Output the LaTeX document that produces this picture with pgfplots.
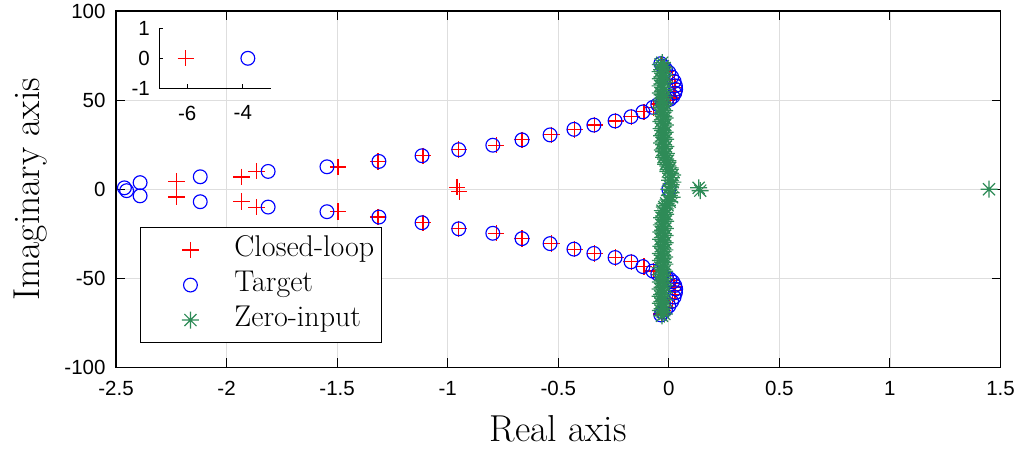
\documentclass[border=0pt]{standalone}
\usepackage{fontspec}
\usepackage{pgfplots}
\pgfplotsset{compat=1.18}
\newfontfamily\ticksfamily{Liberation Sans}
\newcommand\ticks{\ticksfamily\fontsize{20.5}{24}\selectfont}
\newcommand\labfont{\fontsize{37.5}{42}\selectfont}
\newcommand\legfont{\fontsize{30}{34}\selectfont}
\definecolor{zgreen}{RGB}{46,139,87}
\pgfdeclareplotmark{mstar}{%
  \pgfpathmoveto{\pgfqpoint{-\pgfplotmarksize}{0pt}}\pgfpathlineto{\pgfqpoint{\pgfplotmarksize}{0pt}}%
  \pgfpathmoveto{\pgfqpoint{0pt}{-\pgfplotmarksize}}\pgfpathlineto{\pgfqpoint{0pt}{\pgfplotmarksize}}%
  \pgfpathmoveto{\pgfqpoint{-.7071\pgfplotmarksize}{-.7071\pgfplotmarksize}}\pgfpathlineto{\pgfqpoint{.7071\pgfplotmarksize}{.7071\pgfplotmarksize}}%
  \pgfpathmoveto{\pgfqpoint{-.7071\pgfplotmarksize}{.7071\pgfplotmarksize}}\pgfpathlineto{\pgfqpoint{.7071\pgfplotmarksize}{-.7071\pgfplotmarksize}}%
  \pgfusepathqstroke}
\pgfplotsset{myimg/.style={legend image code/.code={\path[draw=none,fill=none] (0pt,-1pt) rectangle (87pt,1pt); \draw[##1] plot coordinates {(45pt,0pt)};}}}

\pgfplotstableread{
x y
-2.226 4.4
-2.226 -4.4
-1.932 6.9
-1.932 -6.9
-1.864 10.1
-1.864 -10.1
-1.496 12.5
-1.496 -12.5
-1.315 15.6
-1.315 -15.6
-1.112 18.8
-1.112 -18.8
-0.958 1.2
-0.948 -1.2
-0.950 22.2
-0.950 -22.2
-0.781 24.7
-0.781 -24.7
-0.664 27.7
-0.664 -27.7
-0.531 30.5
-0.531 -30.5
-0.425 33.6
-0.425 -33.6
-0.335 36.0
-0.335 -36.0
-0.240 38.3
-0.240 -38.3
-0.168 40.7
-0.168 -40.7
-0.112 43.4
-0.112 -43.4
-0.070 45.9
-0.070 -45.9
-0.045 47.8
-0.045 -47.8
-0.025 49.0
-0.025 -49.0
-0.008 50.0
-0.008 -50.0
0.008 51.2
0.008 -51.2
0.020 52.8
0.020 -52.8
0.027 54.8
0.027 -54.8
0.028 57.0
0.028 -57.0
0.024 59.2
0.024 -59.2
0.015 61.5
0.015 -61.5
0.003 64.0
0.003 -64.0
-0.012 66.2
-0.012 -66.2
-0.025 68.2
-0.025 -68.2
-0.034 70.0
-0.034 -70.0
0.000 0.0
}\closedloop

\pgfplotstableread{
x y
-2.462 0.8
-2.452 -0.8
-2.391 3.7
-2.391 -3.7
-2.119 7.0
-2.119 -7.0
-1.812 10.0
-1.812 -10.0
-1.546 12.6
-1.546 -12.6
-1.311 15.6
-1.311 -15.6
-1.116 18.8
-1.116 -18.8
-0.950 22.2
-0.950 -22.2
-0.796 24.7
-0.796 -24.7
-0.664 27.7
-0.664 -27.7
-0.537 30.5
-0.537 -30.5
-0.429 33.6
-0.429 -33.6
-0.339 36.0
-0.339 -36.0
-0.243 38.3
-0.243 -38.3
-0.171 40.7
-0.171 -40.7
-0.117 43.4
-0.117 -43.4
-0.072 45.9
-0.072 -45.9
-0.050 47.5
-0.050 -47.5
-0.030 48.5
-0.030 -48.5
-0.012 49.5
-0.012 -49.5
0.005 50.5
0.005 -50.5
0.018 52.0
0.018 -52.0
0.027 54.0
0.027 -54.0
0.031 56.0
0.031 -56.0
0.030 58.0
0.030 -58.0
0.024 60.5
0.024 -60.5
0.013 63.0
0.013 -63.0
0.000 65.5
0.000 -65.5
-0.015 67.5
-0.015 -67.5
-0.028 69.0
-0.028 -69.0
-0.036 70.5
-0.036 -70.5
0.000 0.0
}\target

\pgfplotstableread{
x y
-0.030 71
-0.038 70
-0.027 69
-0.019 68
-0.032 67
-0.039 66
-0.027 65
-0.019 64
-0.031 63
-0.038 62
-0.026 61
-0.018 60
-0.031 59
-0.039 58
-0.027 57
-0.019 56
-0.025 55
-0.038 54
-0.030 53
-0.019 52
-0.026 51
-0.038 50
-0.029 49
-0.018 48
-0.025 47
-0.037 46
-0.030 45
-0.019 44
-0.027 43
-0.037 42
-0.024 41
-0.017 40
-0.029 39
-0.036 38
-0.026 37
-0.016 36
-0.023 35
-0.035 34
-0.028 33
-0.017 32
-0.025 31
-0.033 30
-0.022 29
-0.014 28
-0.026 27
-0.032 26
-0.023 25
-0.013 24
-0.020 23
-0.029 22
-0.024 21
-0.011 20
-0.019 19
-0.024 18
-0.015 17
-0.004 16
-0.010 15
-0.014 14
-0.004 13
0.006 12
0.002 11
-0.004 10
0.008 9
0.017 8
0.012 6.5
0.004 5
0.018 4
0.010 2.5
0.006 1.5
0.000 0
0.010 -2
0.002 -3.5
0.015 -4.5
-0.004 -6
0.004 -7
-0.012 -8
-0.006 -9
-0.020 -10
-0.014 -11
-0.029 -12
-0.020 -13
-0.014 -14
-0.024 -15
-0.033 -16
-0.021 -17
-0.015 -18
-0.027 -19
-0.034 -20
-0.024 -21
-0.016 -22
-0.028 -23
-0.036 -24
-0.025 -25
-0.017 -26
-0.029 -27
-0.037 -28
-0.026 -29
-0.017 -30
-0.023 -31
-0.036 -32
-0.028 -33
-0.018 -34
-0.026 -35
-0.038 -36
-0.030 -37
-0.019 -38
-0.027 -39
-0.038 -40
-0.025 -41
-0.018 -42
-0.030 -43
-0.039 -44
-0.027 -45
-0.019 -46
-0.031 -47
-0.038 -48
-0.026 -49
-0.018 -50
-0.029 -51
-0.038 -52
-0.025 -53
-0.019 -54
-0.030 -55
-0.039 -56
-0.027 -57
-0.019 -58
-0.032 -59
-0.039 -60
-0.028 -61
-0.019 -62
-0.031 -63
-0.038 -64
-0.027 -65
-0.019 -66
-0.030 -67
-0.038 -68
-0.028 -69
-0.020 -70
-0.031 -71
0.135 0.8
0.142 -0.8
1.448 0
}\zeroinput

\begin{document}
\begin{tikzpicture}
\begin{axis}[name=main,
  scale only axis, width=884.5pt, height=356.5pt,
  xmin=-2.5, xmax=1.5, ymin=-100, ymax=100,
  xtick={-2.5,-2,-1.5,-1,-0.5,0,0.5,1,1.5},
  xticklabels={-2.5,-2,-1.5,-1,-0.5,0,0.5,1,1.5},
  ytick={-100,-50,0,50,100},
  yticklabels={-100,-50,0,50,100},
  grid=major, major grid style={color=black!13, line width=0.8pt},
  tick align=inside, major tick length=9pt,
  tick style={black, line width=0.9pt},
  axis line style={line width=1.2pt},
  ticklabel style={font=\ticks},
  xticklabel style={yshift=-10pt},
  yticklabel style={xshift=-7pt},
  xlabel={Real axis}, ylabel={Imaginary axis},
  label style={font=\labfont},
  xlabel style={at={(axis description cs:0.5,-0.2076)}, anchor=base},
  ylabel style={at={(axis description cs:-0.0865,0.5)}, anchor=base},
  legend style={at={(axis description cs:0,0)}, anchor=south west,
    xshift=24pt, yshift=24.5pt, font=\legfont, draw=black, line width=0.9pt,
    inner xsep=5pt, inner ysep=6pt, row sep=2pt,
    nodes={inner sep=2pt, text height=21pt, text depth=8pt},
    cells={anchor=west}},
]
\addplot[only marks, mark=+, mark size=8.2pt, color=red, line width=1.2pt, myimg]
  table[x=x,y=y] {\closedloop};
\addlegendentry{Closed-loop}
\addplot[only marks, mark=o, mark size=6.9pt, color=blue, line width=1.15pt, myimg]
  table[x=x,y=y] {\target};
\addlegendentry{Target}
\addplot[only marks, mark=mstar, mark size=8.5pt, color=zgreen, line width=1.2pt, myimg]
  table[x=x,y=y] {\zeroinput};
\addlegendentry{Zero-input}
\end{axis}
\begin{axis}[at={(main.north west)}, anchor=north west, xshift=43.3pt, yshift=-17.3pt,
  scale only axis, width=111.4pt, height=60pt,
  xmin=-7, xmax=-3, ymin=-1, ymax=1,
  axis x line=bottom, axis y line=left,
  axis line style={-, line width=0.9pt},
  xtick={-6,-4}, xticklabels={-6,-4},
  ytick={-1,0,1}, yticklabels={-1,0,1},
  tick align=inside, major tick length=4pt,
  tick style={black, line width=0.8pt},
  ticklabel style={font=\ticks},
  xticklabel style={yshift=-14pt},
  yticklabel style={xshift=-6pt},
]
\addplot[only marks, mark=+, mark size=8.2pt, color=red, line width=1.2pt] coordinates {(-6.05,0)};
\addplot[only marks, mark=o, mark size=6.9pt, color=blue, line width=1.15pt] coordinates {(-3.82,0)};
\end{axis}
\pgfresetboundingbox
\path[use as bounding box] ([xshift=-116pt,yshift=-84.5pt]main.south west) rectangle ([xshift=21.5pt,yshift=11pt]main.north east);
\end{tikzpicture}
\end{document}
